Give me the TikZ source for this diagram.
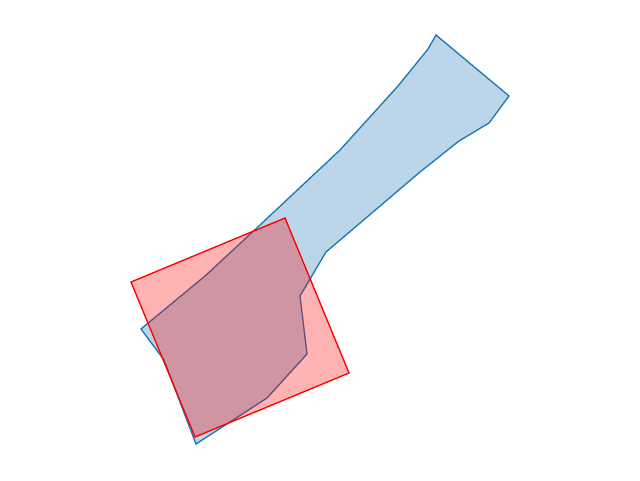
\documentclass[tikz,border=0pt]{standalone}
\usepackage{tikz}
\definecolor{pBlue}{HTML}{1F77B4}
\definecolor{pRed} {HTML}{FF0000}

\begin{document}
\begin{tikzpicture}[
  x=0.75pt, y=-0.75pt,
  shapeA/.style={draw=pBlue, fill=pBlue, fill opacity=0.3, line width=1pt, line join=miter},
  shapeB/.style={draw=pRed, fill=pRed, fill opacity=0.3, line width=1pt, line join=miter},
]
\useasboundingbox (0,0) rectangle (640,480);

% ---------------------------------------------------------------- long strip
\draw[shapeA] (436,35) -- (428,49) -- (398,86) -- (340,150) -- (260,225)
  -- (205,276) -- (141,329) -- (164,360) -- (196,444) -- (267,398)
  -- (307,354) -- (300,296) -- (326,252) -- (420,172) -- (459,141)
  -- (489,123) -- (509,96) -- cycle;

% ---------------------------------------------------------------- square
\draw[shapeB] (131,282) -- (285,218) -- (349,373) -- (195,437) -- cycle;

\end{tikzpicture}
\end{document}
